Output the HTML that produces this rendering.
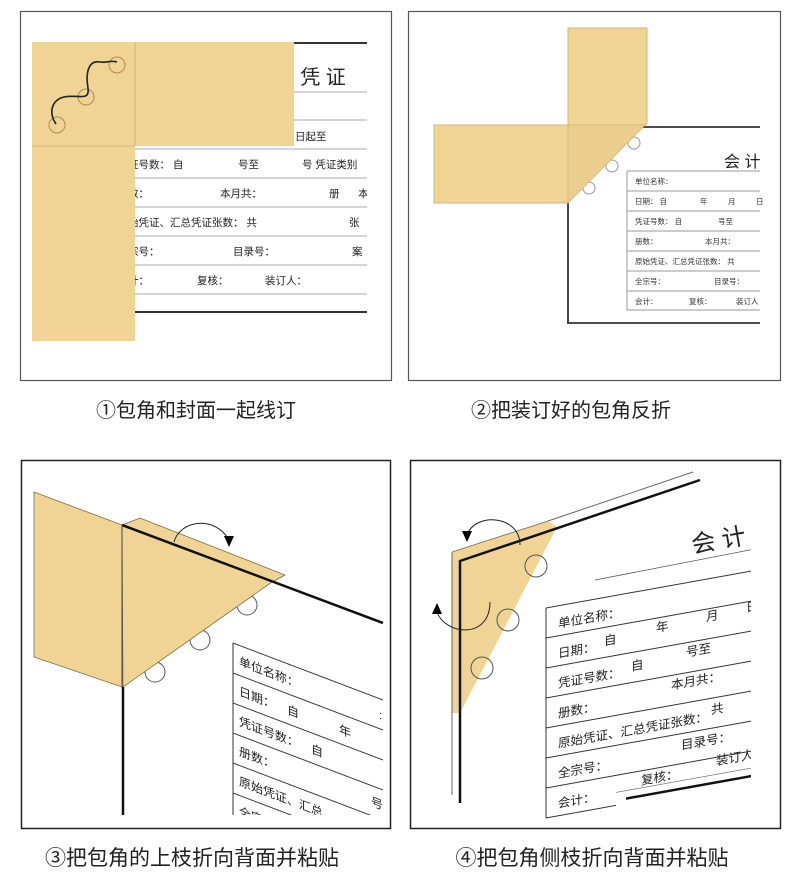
<!DOCTYPE html>
<html><head><meta charset="utf-8"><style>
html,body{margin:0;padding:0;background:#fff;}
svg{display:block;font-family:"Liberation Sans","Noto Sans CJK SC",sans-serif;}
</style></head><body>
<svg width="800" height="891" viewBox="0 0 800 891" xmlns="http://www.w3.org/2000/svg">
<defs>
<clipPath id="c1"><rect x="135" y="30" width="232" height="300"/></clipPath>
<clipPath id="c3"><rect x="22" y="462" width="361" height="353"/></clipPath>
<clipPath id="c4"><rect x="411" y="462" width="340" height="360"/></clipPath>
</defs>

<!-- Panel 1 -->
<rect x="20.5" y="11.5" width="371" height="369" fill="#fff" stroke="#555" stroke-width="1.2"/>
<g clip-path="url(#c1)">
<line x1="290" y1="43" x2="367" y2="43" stroke="#333" stroke-width="2"/>
<text x="288" y="84" font-size="20" fill="#222">· 凭 证</text>
<g stroke="#aaa" stroke-width="1">
<line x1="135" y1="92" x2="367" y2="92"/><line x1="135" y1="120" x2="367" y2="120"/>
<line x1="135" y1="149" x2="367" y2="149"/><line x1="135" y1="178" x2="367" y2="178"/>
<line x1="135" y1="207" x2="367" y2="207"/><line x1="135" y1="236" x2="367" y2="236"/>
<line x1="135" y1="265" x2="367" y2="265"/><line x1="135" y1="294" x2="367" y2="294"/>
</g>
<line x1="135" y1="312" x2="367" y2="312" stroke="#333" stroke-width="2"/>
<g font-size="10.5" fill="#222">
<text x="295" y="140">日起至</text>
<text x="128" y="168">证号数：  自</text><text x="238" y="168">号至</text><text x="302" y="168">号 凭证类别</text>
<text x="128" y="197">数：</text><text x="220" y="197">本月共：</text><text x="329" y="197">册</text><text x="358" y="197">本</text>
<text x="128" y="226">始凭证、汇总凭证张数：  共</text><text x="349" y="226">张</text>
<text x="128" y="255">宗号：</text><text x="233" y="255">目录号：</text><text x="352" y="255">案</text>
<text x="128" y="284">计：</text><text x="197" y="284">复核：</text><text x="265" y="284">装订人：</text>
</g>
</g>
<rect x="32" y="42" width="262" height="104" fill="#f0d495"/>
<rect x="32" y="146" width="103" height="195" fill="#f0d495"/>
<line x1="135" y1="42" x2="135" y2="146" stroke="#c9ad72" stroke-width="0.8"/>
<line x1="32" y1="146" x2="135" y2="146" stroke="#c9ad72" stroke-width="0.8"/>
<g fill="none" stroke="#b08c4a" stroke-width="1"><circle cx="117" cy="65" r="8"/><circle cx="86" cy="97" r="8"/><circle cx="57" cy="125" r="8"/></g>
<path d="M56,124 C48,112 52,100 64,97 C78,94 90,102 88,88 C85,70 90,60 100,62 C108,63 110,60 117,62" fill="none" stroke="#222" stroke-width="1.6"/>

<!-- Panel 2 -->
<rect x="408.5" y="11.5" width="372" height="369" fill="#fff" stroke="#555" stroke-width="1.2"/>
<line x1="643" y1="127" x2="760" y2="127" stroke="#333" stroke-width="1.8"/>
<line x1="568" y1="200" x2="568" y2="323" stroke="#333" stroke-width="1.8"/>
<line x1="567" y1="323" x2="760" y2="323" stroke="#333" stroke-width="1.8"/>
<text x="724" y="167" font-size="16" fill="#222">会 计</text>
<g stroke="#999" stroke-width="1">
<line x1="627" y1="171" x2="760" y2="171"/><line x1="627" y1="191" x2="760" y2="191"/>
<line x1="627" y1="211" x2="760" y2="211"/><line x1="627" y1="231" x2="760" y2="231"/>
<line x1="627" y1="251" x2="760" y2="251"/><line x1="627" y1="271" x2="760" y2="271"/>
<line x1="627" y1="291" x2="760" y2="291"/><line x1="627" y1="310" x2="760" y2="310"/>
<line x1="627" y1="171" x2="627" y2="310"/>
</g>
<g font-size="7.5" fill="#333">
<text x="635" y="184">单位名称：</text>
<text x="635" y="204">日期：  自</text><text x="700" y="204">年</text><text x="728" y="204">月</text><text x="756" y="204">日</text>
<text x="635" y="224">凭证号数：  自</text><text x="718" y="224">号至</text>
<text x="635" y="244">册数：</text><text x="705" y="244">本月共：</text>
<text x="635" y="264">原始凭证、汇总凭证张数：  共</text>
<text x="635" y="284">全宗号：</text><text x="714" y="284">目录号：</text>
<text x="635" y="304">会计：</text><text x="689" y="304">复核：</text><text x="736" y="304">装订人</text>
</g>
<g fill="#fff" stroke="#999" stroke-width="1"><circle cx="634" cy="143" r="6"/><circle cx="612" cy="166" r="6"/><circle cx="589" cy="188" r="6"/></g>
<polygon points="568,28 647,28 647,123 645,125 568,203 434,203 434,125 568,125" fill="#f0d495" stroke="#d1b47a" stroke-width="1"/>
<polygon points="568,125 645,125 568,203" fill="#e8c98a" opacity="0.6"/>
<line x1="568" y1="125" x2="568" y2="203" stroke="#d1b47a" stroke-width="0.8"/>
<line x1="568" y1="125" x2="647" y2="125" stroke="#d1b47a" stroke-width="0.8"/>

<!-- Panel 3 -->
<rect x="21.5" y="460.5" width="369" height="368" fill="#fff" stroke="#222" stroke-width="1.5"/>
<g clip-path="url(#c3)">
<g transform="translate(233,643) matrix(1,0.38,0,1,0,0)">
<g stroke="#333" stroke-width="1">
<line x1="0" y1="0" x2="160" y2="0"/><line x1="0" y1="30" x2="160" y2="30"/>
<line x1="0" y1="60" x2="160" y2="60"/><line x1="0" y1="90" x2="160" y2="90"/>
<line x1="0" y1="120" x2="160" y2="120"/><line x1="0" y1="150" x2="160" y2="150"/>
<line x1="0" y1="0" x2="0" y2="200"/>
</g>
<g font-size="12" fill="#222">
<text x="6" y="20">单位名称：</text><text x="146" y="20">:</text>
<text x="6" y="50">日期：</text><text x="54" y="50">自</text><text x="106" y="50">年</text>
<text x="6" y="80">凭证号数：</text><text x="78" y="80">自</text>
<text x="6" y="110">册数：</text><text x="138" y="110">号</text>
<text x="6" y="140">原始凭证、汇总</text><text x="120" y="140">本月共</text>
<text x="6" y="170">全宗号</text>
</g>
</g>
</g>
<g fill="#fff" stroke="#555" stroke-width="1"><circle cx="247" cy="605" r="10"/><circle cx="200" cy="640" r="10"/><circle cx="155" cy="672" r="10"/></g>
<polygon points="34,492 122,525 122,687 34,657" fill="#f0d495" stroke="#7a6a4a" stroke-width="0.8"/>
<polygon points="122,525 140,518 285,575 272,582 123,687" fill="#f0d495" stroke="#7a6a4a" stroke-width="0.8"/>
<line x1="122" y1="525" x2="383" y2="623" stroke="#111" stroke-width="2.5"/>
<line x1="122" y1="525" x2="122" y2="687" stroke="#444" stroke-width="1"/>
<line x1="123" y1="687" x2="123" y2="815" stroke="#111" stroke-width="2.5"/>
<path d="M174,542 C180,520 215,515 229,540" fill="none" stroke="#222" stroke-width="1"/>
<polygon points="224,536 234,536 229,547" fill="#000"/>

<!-- Panel 4 -->
<rect x="410.5" y="460.5" width="370" height="368" fill="#fff" stroke="#222" stroke-width="1.5"/>
<g clip-path="url(#c4)">
<text x="693" y="553" font-size="24" fill="#222" transform="rotate(-10 693 553)">会 计</text>
<line x1="595" y1="580" x2="760" y2="548" stroke="#555" stroke-width="0.8"/>
<g transform="translate(546,608) matrix(1,-0.18,0,1,0,0)">
<g stroke="#333" stroke-width="1">
<line x1="0" y1="0" x2="210" y2="0"/><line x1="0" y1="30" x2="210" y2="30"/>
<line x1="0" y1="60" x2="210" y2="60"/><line x1="0" y1="90" x2="210" y2="90"/>
<line x1="0" y1="120" x2="210" y2="120"/><line x1="0" y1="150" x2="210" y2="150"/>
<line x1="0" y1="180" x2="210" y2="180"/>
<line x1="0" y1="0" x2="0" y2="210"/><line x1="0" y1="210" x2="70" y2="210"/>
<line x1="70" y1="197" x2="210" y2="197" stroke="#777" stroke-width="0.8"/>
</g>
<line x1="80" y1="205" x2="210" y2="205" stroke="#111" stroke-width="2.5"/>
<g font-size="12.5" fill="#222">
<text x="12" y="22">单位名称：</text>
<text x="12" y="52">日期：</text><text x="58" y="48">自</text><text x="110" y="44">年</text><text x="160" y="42">月</text><text x="200" y="40">日</text>
<text x="12" y="82">凭证号数：</text><text x="85" y="78">自</text><text x="140" y="74">号至</text>
<text x="12" y="112">册数：</text><text x="125" y="104">本月共：</text>
<text x="12" y="142">原始凭证、汇总凭证张数：</text><text x="165" y="136">共</text>
<text x="12" y="172">全宗号：</text><text x="135" y="166">目录号：</text>
<text x="12" y="202">会计：</text><text x="95" y="194">复核：</text><text x="170" y="188">装订人</text>
</g>
</g>
</g>
<polygon points="452,552 548,521 557,527 460,713 452,713" fill="#f0d495"/>
<line x1="452" y1="552" x2="452" y2="795" stroke="#666" stroke-width="1"/>
<line x1="548" y1="521" x2="693" y2="472" stroke="#666" stroke-width="1"/>
<line x1="452" y1="552" x2="548" y2="521" stroke="#7a6a4a" stroke-width="0.8"/>
<polyline points="460,803 460,561 700,480" fill="none" stroke="#111" stroke-width="2.5"/>
<g fill="none" stroke="#555" stroke-width="1"><circle cx="536" cy="566" r="11"/><circle cx="508" cy="620" r="11"/><circle cx="482" cy="668" r="11"/></g>
<path d="M520,545 C520,515 475,512 467,535" fill="none" stroke="#222" stroke-width="1"/>
<polygon points="462,531 472,531 467,542" fill="#000"/>
<path d="M490,602 C490,640 445,635 437,612" fill="none" stroke="#222" stroke-width="1"/>
<polygon points="432,614 442,614 437,603" fill="#000"/>

<!-- Captions -->
<g font-size="20" fill="#222">
<text x="196" y="417" text-anchor="middle">①包角和封面一起线订</text>
<text x="571" y="417" text-anchor="middle">②把装订好的包角反折</text>
<text x="192" y="865" text-anchor="middle" font-size="21">③把包角的上枝折向背面并粘贴</text>
<text x="592" y="865" text-anchor="middle" font-size="21">④把包角侧枝折向背面并粘贴</text>
</g>
</svg>
</body></html>
